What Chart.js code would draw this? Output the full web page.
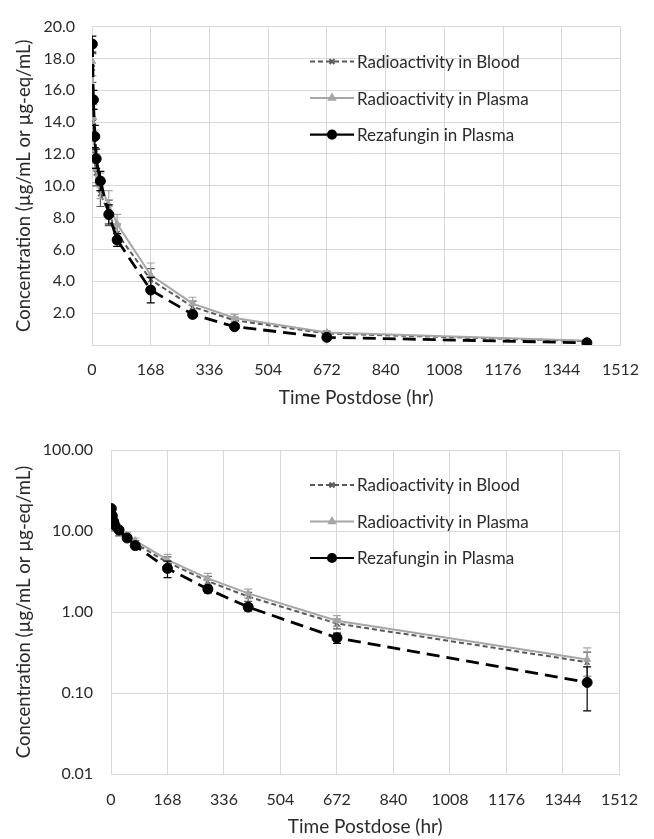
<!DOCTYPE html>
<html>
<head>
<meta charset="utf-8">
<script src="https://cdn.jsdelivr.net/npm/chart.js@4.4.1/dist/chart.umd.min.js"></script>
<style>
  html, body { margin: 0; padding: 0; background: #ffffff; }
  #wrap { position: relative; width: 654px; height: 839px; }
  .box { position: absolute; left: 0; width: 654px; }
  #topBox { top: 0; height: 415px; }
  #botBox { top: 415px; height: 424px; }
</style>
</head>
<body>
<div id="wrap">
  <div class="box" id="topBox"><canvas id="linChart" width="654" height="415"></canvas></div>
  <div class="box" id="botBox"><canvas id="logChart" width="654" height="424"></canvas></div>
</div>
<script>
// Sampling times (hours after dose)
const timesHr = [1, 4, 8, 12, 24, 48, 72, 168, 288, 408, 672, 1416];

// Mean concentrations and standard deviations
const bloodRadio   = [17.4, 14.0, 12.0, 10.8, 9.5, 8.3, 7.0, 4.1, 2.4, 1.55, 0.72, 0.24];
const bloodRadioSd = [0.9, 0.8, 0.9, 0.8, 0.8, 0.8, 0.6, 0.7, 0.35, 0.2, 0.1, 0.08];
const plasmaRadio   = [17.8, 14.3, 12.3, 11.1, 10.0, 8.8, 7.6, 4.4, 2.6, 1.7, 0.78, 0.26];
const plasmaRadioSd = [0.9, 0.8, 0.9, 0.9, 0.8, 0.9, 0.6, 0.75, 0.4, 0.22, 0.12, 0.1];
const rezafungin   = [18.9, 15.4, 13.1, 11.7, 10.3, 8.2, 6.6, 3.45, 1.92, 1.15, 0.48, 0.135];
const rezafunginSd = [0.5, 0.6, 0.7, 0.6, 0.6, 0.6, 0.4, 0.8, 0.2, 0.12, 0.07, 0.075];

// Axis tick values
const xTicks = [0, 168, 336, 504, 672, 840, 1008, 1176, 1344, 1512];
const linYTicks = [0, 2, 4, 6, 8, 10, 12, 14, 16, 18, 20];
const logYTicks = [0.01, 0.1, 1, 10, 100];

const seriesNames = ['Radioactivity in Blood', 'Radioactivity in Plasma', 'Rezafungin in Plasma'];

const FONT = 'Lato, "Open Sans", sans-serif';
const TEXT = '#2a2a2a';
const GRID = '#d9d9d9';

const STYLE = [
  { color: '#595959', dash: [5, 3], width: 2, point: 'crossRot', radius: 3.5, legendDash: [5, 3] },
  { color: '#a6a6a6', dash: [], width: 2, point: 'triangle', radius: 4, legendDash: [] },
  { color: '#000000', dash: [13, 7], width: 2.8, point: 'circle', radius: 5, legendDash: [] }
];

function pts(vals) { return timesHr.map((t, i) => ({ x: t, y: vals[i] })); }

function makeDatasets() {
  const vals = [bloodRadio, plasmaRadio, rezafungin];
  const sds = [bloodRadioSd, plasmaRadioSd, rezafunginSd];
  const order = [2, 1, 0];
  return vals.map((v, k) => ({
    label: seriesNames[k],
    data: pts(v),
    sd: sds[k],
    order: order[k],
    borderColor: STYLE[k].color,
    backgroundColor: STYLE[k].color,
    borderWidth: STYLE[k].width,
    borderDash: STYLE[k].dash,
    pointStyle: STYLE[k].point,
    pointRadius: STYLE[k].radius,
    pointBorderColor: STYLE[k].color,
    pointBackgroundColor: STYLE[k].color,
    pointBorderWidth: k === 0 ? 1.5 : 1,
    tension: 0,
    fill: false
  }));
}

// Vertical error bars with caps, drawn with each series
const errorBars = {
  id: 'errorBars',
  afterDatasetDraw(chart, args) {
    const ds = chart.data.datasets[args.index];
    if (!ds.sd) return;
    const { ctx, chartArea } = chart;
    const xs = chart.scales.x, ys = chart.scales.y;
    ctx.save();
    ctx.beginPath();
    ctx.rect(chartArea.left, chartArea.top, chartArea.right - chartArea.left, chartArea.bottom - chartArea.top);
    ctx.clip();
    ctx.strokeStyle = ds.borderColor;
    ctx.lineWidth = 1.2;
    ctx.setLineDash([]);
    ds.data.forEach((p, i) => {
      const s = ds.sd[i];
      const x = xs.getPixelForValue(p.x);
      const hiV = p.y + s;
      const loV = Math.max(p.y - s, ys.min);
      const yHi = ys.getPixelForValue(hiV);
      const yLo = ys.getPixelForValue(loV);
      ctx.beginPath();
      ctx.moveTo(x, yHi); ctx.lineTo(x, yLo);
      ctx.moveTo(x - 4, yHi); ctx.lineTo(x + 4, yHi);
      if (p.y - s > ys.min) { ctx.moveTo(x - 4, yLo); ctx.lineTo(x + 4, yLo); }
      ctx.stroke();
    });
    ctx.restore();
  }
};

// Legend inside the plot: line sample with marker, then the series name
const sampleLegend = {
  id: 'sampleLegend',
  afterDraw(chart) {
    const { ctx, chartArea } = chart;
    const x1 = 310, x2 = 354, xm = 332;
    ctx.save();
    seriesNames.forEach((name, k) => {
      const y = chartArea.top + 35 + k * 36.5;
      const st = STYLE[k];
      ctx.strokeStyle = st.color;
      ctx.fillStyle = st.color;
      ctx.lineWidth = Math.min(st.width, 2.2);
      ctx.setLineDash(st.legendDash);
      ctx.beginPath(); ctx.moveTo(x1, y); ctx.lineTo(x2, y); ctx.stroke();
      ctx.setLineDash([]);
      Chart.helpers.drawPoint(ctx, {
        pointStyle: st.point, radius: k === 2 ? 4 : 3.5, rotation: 0, borderWidth: 1.2
      }, xm, y);
      ctx.fillStyle = TEXT;
      ctx.font = '17px ' + FONT;
      ctx.textBaseline = 'middle';
      ctx.textAlign = 'left';
      ctx.fillText(name, 357, y + 1);
    });
    ctx.restore();
  }
};

function xScale(height, tickPad, titlePad) {
  return {
    type: 'linear', min: 0, max: 1512,
    afterBuildTicks: s => { s.ticks = xTicks.map(v => ({ value: v })); },
    afterFit: s => { s.height = height; },
    grid: { color: GRID, lineWidth: 1, drawTicks: false },
    border: { color: GRID, width: 1 },
    ticks: { color: TEXT, font: { family: FONT, size: 16 }, padding: tickPad, maxRotation: 0, autoSkip: false,
             callback: v => String(v) },
    title: { display: true, text: 'Time Postdose (hr)', color: TEXT, font: { family: FONT, size: 19 }, padding: titlePad }
  };
}

function yTitle() {
  return { display: true, text: 'Concentration (µg/mL or µg-eq/mL)', color: TEXT, font: { family: FONT, size: 18.5 }, padding: 13 };
}

// Linear concentration-time profile
new Chart(document.getElementById('linChart'), {
  type: 'line',
  data: { datasets: makeDatasets() },
  plugins: [errorBars, sampleLegend],
  options: {
    responsive: false, animation: false,
    layout: { padding: { top: 22, right: 22, left: 0, bottom: 0 } },
    plugins: { legend: { display: false }, tooltip: { enabled: false } },
    scales: {
      x: xScale(70, 15, 6),
      y: {
        type: 'linear', min: 0, max: 20,
        afterBuildTicks: s => { s.ticks = linYTicks.map(v => ({ value: v })); },
        afterFit: s => { s.width = 92; },
        grid: { color: GRID, lineWidth: 1, drawTicks: false },
        border: { color: GRID, width: 1 },
        ticks: { color: TEXT, font: { family: FONT, size: 16 }, padding: 17,
                 callback: v => (v === 0 ? '' : Number(v).toFixed(1)) },
        title: yTitle()
      }
    }
  }
});

// Semi-log concentration-time profile
new Chart(document.getElementById('logChart'), {
  type: 'line',
  data: { datasets: makeDatasets() },
  plugins: [errorBars, sampleLegend],
  options: {
    responsive: false, animation: false,
    layout: { padding: { top: 35, right: 21, left: 0, bottom: 0 } },
    plugins: { legend: { display: false }, tooltip: { enabled: false } },
    scales: {
      x: xScale(65, 16, 1),
      y: {
        type: 'logarithmic', min: 0.01, max: 100,
        afterBuildTicks: s => { s.ticks = logYTicks.map(v => ({ value: v })); },
        afterFit: s => { s.width = 111; },
        grid: { color: GRID, lineWidth: 1, drawTicks: false },
        border: { color: GRID, width: 1 },
        ticks: { color: TEXT, font: { family: FONT, size: 16 }, padding: 18,
                 callback: v => Number(v).toFixed(2) },
        title: yTitle()
      }
    }
  }
});
</script>
</body>
</html>
